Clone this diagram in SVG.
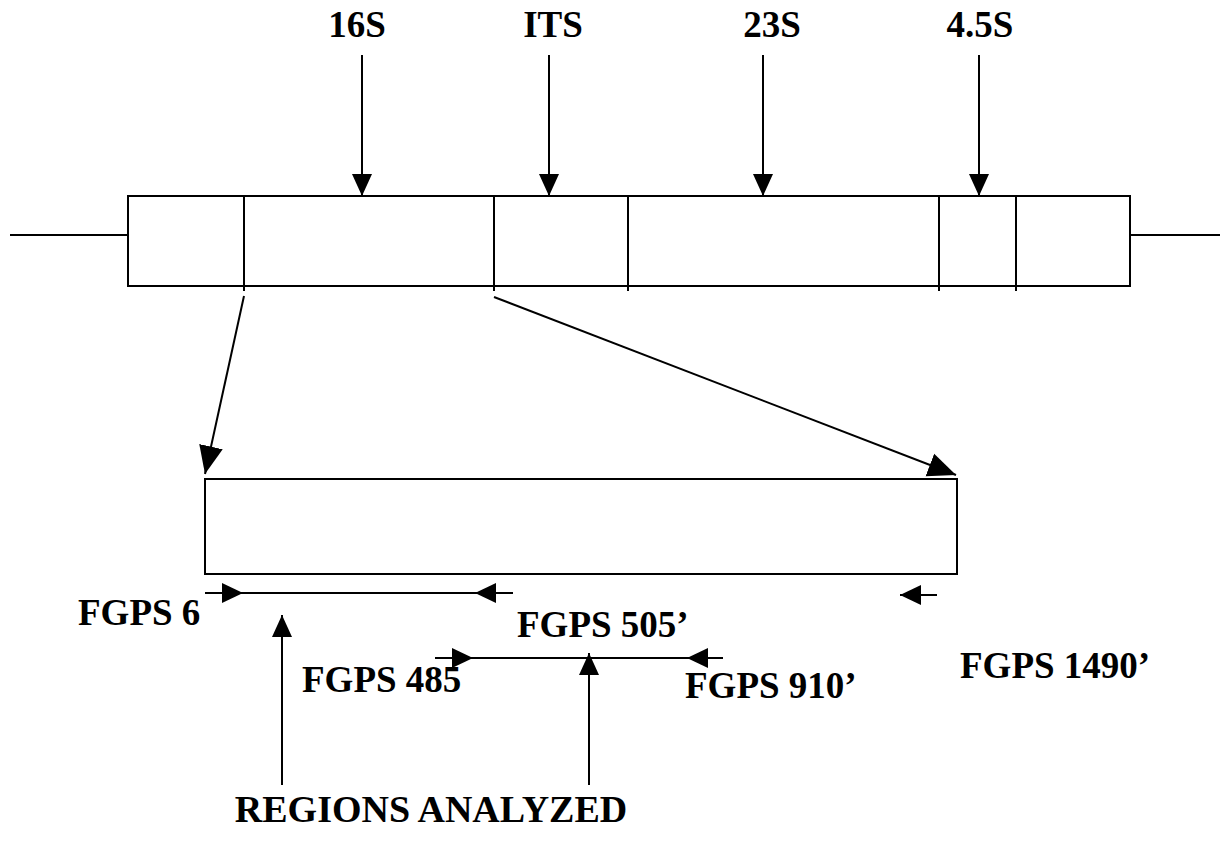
<svg xmlns="http://www.w3.org/2000/svg" width="1226" height="841" viewBox="0 0 1226 841">
<style>
.ln{stroke:#000;stroke-width:2;fill:none}
.box{stroke:#000;stroke-width:2;fill:#fff}
.ah{fill:#000;stroke:none}
.t{font-family:"Liberation Serif","Times New Roman",serif;font-weight:bold;font-size:37px;fill:#000}
</style>
<defs>
<marker id="arr" markerUnits="userSpaceOnUse" markerWidth="24" markerHeight="22" refX="22" refY="10" orient="auto" viewBox="0 0 24 20">
<path d="M0,0 L22,10 L0,20 z" fill="#000"/>
</marker>
<marker id="arrL" markerUnits="userSpaceOnUse" markerWidth="30" markerHeight="26" refX="28" refY="12" orient="auto" viewBox="0 0 30 24">
<path d="M0,0 L28,12 L0,24 z" fill="#000"/>
</marker>
</defs>
<rect width="1226" height="841" fill="#fff"/>

<g id="operon">
<line class="ln" x1="10" y1="235" x2="128" y2="235"/>
<line class="ln" x1="1130" y1="235" x2="1220" y2="235"/>
<rect class="box" x="128" y="196" width="1002" height="90"/>
<line class="ln" x1="244" y1="196" x2="244" y2="291"/>
<line class="ln" x1="494" y1="196" x2="494" y2="291"/>
<line class="ln" x1="628" y1="196" x2="628" y2="291"/>
<line class="ln" x1="939" y1="196" x2="939" y2="291"/>
<line class="ln" x1="1016" y1="196" x2="1016" y2="291"/>
</g>

<g id="label-16S"><text class="t" x="357" y="37" text-anchor="middle">16S</text></g>
<g id="label-ITS"><text class="t" x="553" y="37" text-anchor="middle">ITS</text></g>
<g id="label-23S"><text class="t" x="772" y="37" text-anchor="middle">23S</text></g>
<g id="label-45S"><text class="t" x="980" y="37" text-anchor="middle">4.5S</text></g>

<g id="region16S">
<rect class="box" x="205" y="479" width="752" height="95"/>
</g>

<g id="primers">
<line class="ln" x1="205" y1="593" x2="513" y2="593"/>
<polygon class="ah" points="243,593 222,583 222,603"/>
<polygon class="ah" points="475,593 496,583 496,603"/>
<line class="ln" x1="900" y1="595" x2="937" y2="595"/>
<polygon class="ah" points="900,595 921,585 921,605"/>
<line class="ln" x1="435" y1="658" x2="723" y2="658"/>
<polygon class="ah" points="473,658 452,648 452,668"/>
<polygon class="ah" points="687,658 708,648 708,668"/>
</g>

<g id="label-fgps6"><text class="t" x="78" y="625">FGPS 6</text></g>
<g id="label-fgps505"><text class="t" x="517" y="637">FGPS 505’</text></g>
<g id="label-fgps1490"><text class="t" x="960" y="678">FGPS 1490’</text></g>
<g id="label-fgps485"><text class="t" x="302" y="692">FGPS 485</text></g>
<g id="label-fgps910"><text class="t" x="685" y="698">FGPS 910’</text></g>
<g id="label-regions"><text class="t" x="431" y="822" text-anchor="middle" style="font-size:38px">REGIONS ANALYZED</text></g>

<g id="connectors">
<line class="ln" x1="362" y1="55" x2="362" y2="196" marker-end="url(#arr)"/>
<line class="ln" x1="549" y1="55" x2="549" y2="196" marker-end="url(#arr)"/>
<line class="ln" x1="763" y1="55" x2="763" y2="196" marker-end="url(#arr)"/>
<line class="ln" x1="979" y1="55" x2="979" y2="196" marker-end="url(#arr)"/>
<line class="ln" x1="244" y1="296" x2="205" y2="474" marker-end="url(#arrL)"/>
<line class="ln" x1="494" y1="297" x2="956" y2="475" marker-end="url(#arrL)"/>
<line class="ln" x1="282" y1="785" x2="282" y2="615" marker-end="url(#arr)"/>
<line class="ln" x1="589" y1="785" x2="589" y2="653" marker-end="url(#arr)"/>
</g>
</svg>
